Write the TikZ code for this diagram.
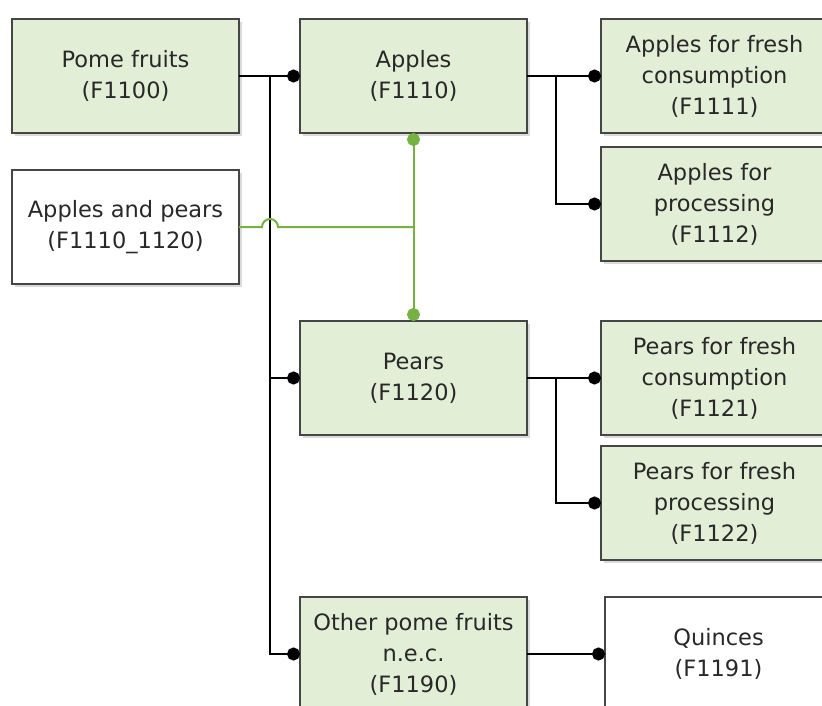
\documentclass[tikz,border=0pt]{standalone}
\usepackage{fontspec}
\setmainfont{DejaVu Sans}
\usetikzlibrary{arrows.meta,shadows}

\definecolor{boxfill}{RGB}{227,238,215}
\definecolor{boxline}{RGB}{70,70,70}
\definecolor{textgray}{RGB}{40,40,40}
\definecolor{linkgreen}{RGB}{118,178,66}
\definecolor{shadowgray}{RGB}{218,218,218}

\begin{document}
\begin{tikzpicture}[x=1pt,y=-1pt,
  box/.style={draw=boxline, line width=1.2pt, anchor=north west,
    minimum width=227pt, minimum height=114pt, inner sep=0pt, outer sep=0pt,
    align=center, text=textgray, font=\fontsize{22.5}{31}\selectfont,
    drop shadow={shadow xshift=3pt, shadow yshift=-3pt, fill=shadowgray, opacity=1}},
  greenbox/.style={box, fill=boxfill},
  whitebox/.style={box, fill=white},
  conn/.style={draw=black, line width=1.7pt, -{Circle[length=13pt,width=13pt]}},
  link/.style={draw=linkgreen, line width=2pt},
  linkdots/.style={link, {Circle[length=13pt,width=13pt]}-{Circle[length=13pt,width=13pt]}}
]
\useasboundingbox (0,0) rectangle (822,706);
\clip (0,0) rectangle (822,706);

% hierarchy boxes
\node[greenbox] (pome)   at (12,19)  {Pome fruits\\(F1100)};
\node[whitebox] (anp)    at (12,170) {Apples and pears\\(F1110\_1120)};
\node[greenbox] (apples) at (300,19) {Apples\\(F1110)};
\node[greenbox] (pears)  at (300,321) {Pears\\(F1120)};
\node[greenbox] (other)  at (300,597) {Other pome fruits\\n.e.c.\\(F1190)};
\node[greenbox] (af)     at (601,19)  {Apples for fresh\\consumption\\(F1111)};
\node[greenbox] (ap)     at (601,147) {Apples for\\processing\\(F1112)};
\node[greenbox] (pf)     at (601,321) {Pears for fresh\\consumption\\(F1121)};
\node[greenbox] (pp)     at (601,446) {Pears for fresh\\processing\\(F1122)};
\node[whitebox] (quin)   at (605,597) {Quinces\\(F1191)};

% branch points
\coordinate (tr) at ([xshift=31pt]pome.east);
\coordinate (ab) at ([xshift=29pt]apples.east);
\coordinate (pb) at ([xshift=29pt]pears.east);

% tree connectors
\draw[conn] (pome.east) -- (apples.west);
\draw[conn] (tr) |- (pears.west);
\draw[conn] (tr) |- (other.west);
\draw[conn] (apples.east) -- (af.west);
\draw[conn] (ab) |- (ap.west);
\draw[conn] (pears.east) -- (pf.west);
\draw[conn] (pb) |- (pp.west);
\draw[conn] (other.east) -- (quin.west);

% aggregate link
\coordinate (gj) at (apples.south |- anp.east);
\draw[linkdots] (apples.south) -- (pears.north);
\draw[link] (anp.east) -- ([xshift=-8pt]tr |- anp.east)
  arc[start angle=180, end angle=0, radius=8pt] -- (gj);
\end{tikzpicture}
\end{document}
